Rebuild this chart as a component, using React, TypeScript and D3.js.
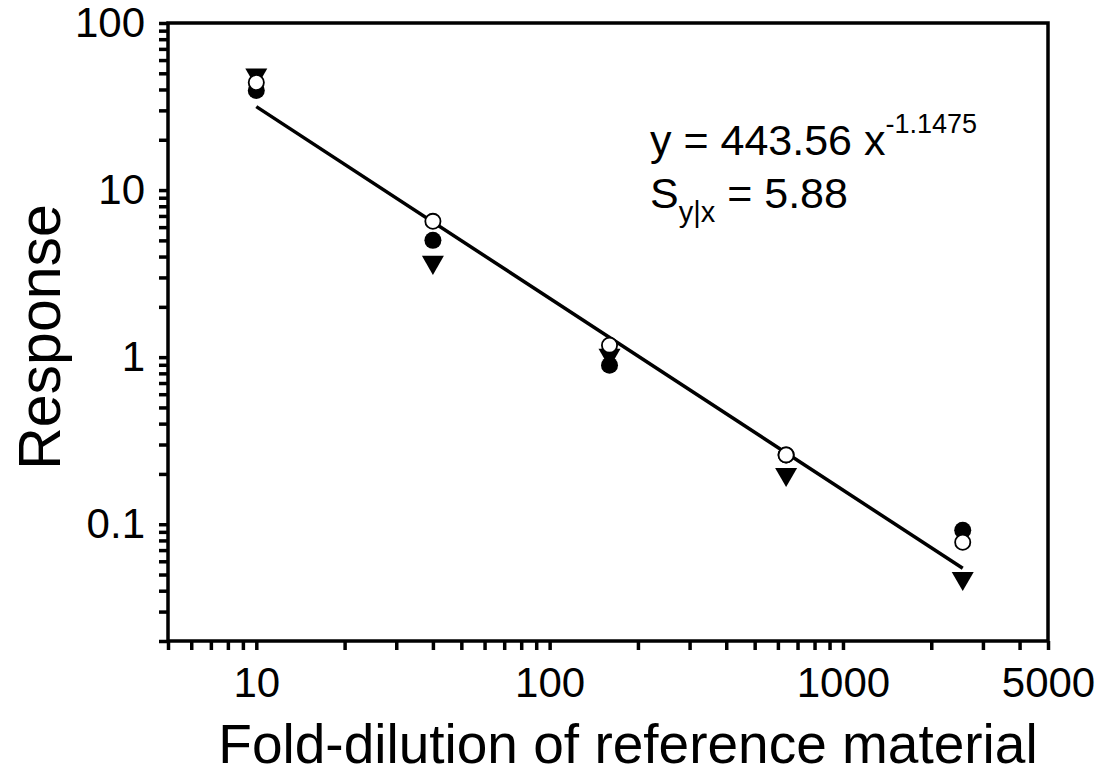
import { useEffect, useRef } from "react";
import * as d3 from "d3";

// fold dilutions of the reference material
const dilutions = [10, 40, 160, 640, 2560];
// three replicate series (filled circle, open circle, filled triangle)
const filledCircle = [39.5, 5.0, 0.895, 0.26, 0.092];
const openCircle = [44, 6.5, 1.18, 0.26, 0.078];
const triangleDown = [49, 3.7, 1.03, 0.199, 0.0475];
// power fit y = a * x^b
const fitA = 443.56;
const fitB = -1.1475;
const xTickLabels = [10, 100, 1000, 5000];
const yTickLabels = [0.1, 1, 10, 100];

const FONT = "'Liberation Sans', Arial, Helvetica, sans-serif";

export default function App() {
  const ref = useRef<SVGSVGElement>(null);

  useEffect(() => {
    const width = 1110;
    const height = 783;
    const left = 168, right = 1048, top = 23, bottom = 641;
    const svg = d3.select(ref.current);
    svg.selectAll("*").remove();

    const x = d3.scaleLog().domain([5, 5000]).range([left, right]);
    const y = d3.scaleLog().domain([0.02, 100]).range([bottom, top]);

    // frame
    svg
      .append("rect")
      .attr("x", left)
      .attr("y", top)
      .attr("width", right - left)
      .attr("height", bottom - top)
      .attr("fill", "none")
      .attr("stroke", "#000")
      .attr("stroke-width", 3.5);

    const xAxis = d3
      .axisBottom(x)
      .tickValues(x.ticks())
      .tickSize(9)
      .tickPadding(17)
      .tickFormat((d) => (xTickLabels.includes(+d) ? String(d) : ""));
    const gx = svg
      .append("g")
      .attr("transform", `translate(0,${bottom})`)
      .call(xAxis);
    gx.select(".domain").remove();
    gx.selectAll("line").attr("stroke-width", 3.5);
    gx.selectAll("text")
      .style("font-family", FONT)
      .style("font-size", "42px")
      .attr("fill", "#000");

    const yAxis = d3
      .axisLeft(y)
      .tickValues(y.ticks())
      .tickSize(9)
      .tickPadding(14)
      .tickFormat((d) => (yTickLabels.includes(+d) ? String(d) : ""));
    const gy = svg
      .append("g")
      .attr("transform", `translate(${left},0)`)
      .call(yAxis);
    gy.select(".domain").remove();
    gy.selectAll("line").attr("stroke-width", 3.5);
    gy.selectAll("text")
      .style("font-family", FONT)
      .style("font-size", "42px")
      .attr("fill", "#000");

    // fitted line
    const fitX = [dilutions[0], dilutions[dilutions.length - 1]];
    const line = d3
      .line<number>()
      .x((d) => x(d))
      .y((d) => y(fitA * Math.pow(d, fitB)));
    svg
      .append("path")
      .datum(fitX)
      .attr("d", line)
      .attr("fill", "none")
      .attr("stroke", "#000")
      .attr("stroke-width", 3.5);

    const tri = d3.symbol().type(d3.symbolTriangle).size(210)();
    svg
      .append("g")
      .selectAll("path")
      .data(triangleDown)
      .enter()
      .append("path")
      .attr("d", tri)
      .attr("transform", (d, i) => `translate(${x(dilutions[i])},${y(d)}) rotate(180)`)
      .attr("fill", "#000");

    svg
      .append("g")
      .selectAll("circle")
      .data(filledCircle)
      .enter()
      .append("circle")
      .attr("cx", (d, i) => x(dilutions[i]))
      .attr("cy", (d) => y(d))
      .attr("r", 8.5)
      .attr("fill", "#000");

    svg
      .append("g")
      .selectAll("circle")
      .data(openCircle)
      .enter()
      .append("circle")
      .attr("cx", (d, i) => x(dilutions[i]))
      .attr("cy", (d) => y(d))
      .attr("r", 7.6)
      .attr("fill", "#fff")
      .attr("stroke", "#000")
      .attr("stroke-width", 1.8);

    // equation annotation
    const eq = svg
      .append("text")
      .attr("x", 650)
      .attr("y", 155)
      .style("font-family", FONT)
      .style("font-size", "43px")
      .attr("fill", "#000");
    eq.append("tspan").text("y = 443.56 x");
    eq.append("tspan")
      .attr("dy", -22)
      .style("font-size", "27px")
      .text("-1.1475");

    const se = svg
      .append("text")
      .attr("x", 650)
      .attr("y", 208)
      .style("font-family", FONT)
      .style("font-size", "43px")
      .attr("fill", "#000");
    se.append("tspan").text("S");
    se.append("tspan").attr("dy", 14).style("font-size", "29px").text("y|x");
    se.append("tspan").attr("dy", -14).text(" = 5.88");

    // axis titles
    svg
      .append("text")
      .attr("x", 628)
      .attr("y", 763)
      .attr("text-anchor", "middle")
      .style("font-family", FONT)
      .style("font-size", "55px")
      .attr("fill", "#000")
      .text("Fold-dilution of reference material");

    svg
      .append("text")
      .attr("transform", `translate(60,337) rotate(-90)`)
      .attr("text-anchor", "middle")
      .style("font-family", FONT)
      .style("font-size", "59px")
      .attr("fill", "#000")
      .text("Response");

    svg.attr("width", width).attr("height", height);
  }, []);

  return (
    <svg
      ref={ref}
      width={1110}
      height={783}
      style={{ position: "absolute", left: 0, top: 0, background: "#fff" }}
    />
  );
}
